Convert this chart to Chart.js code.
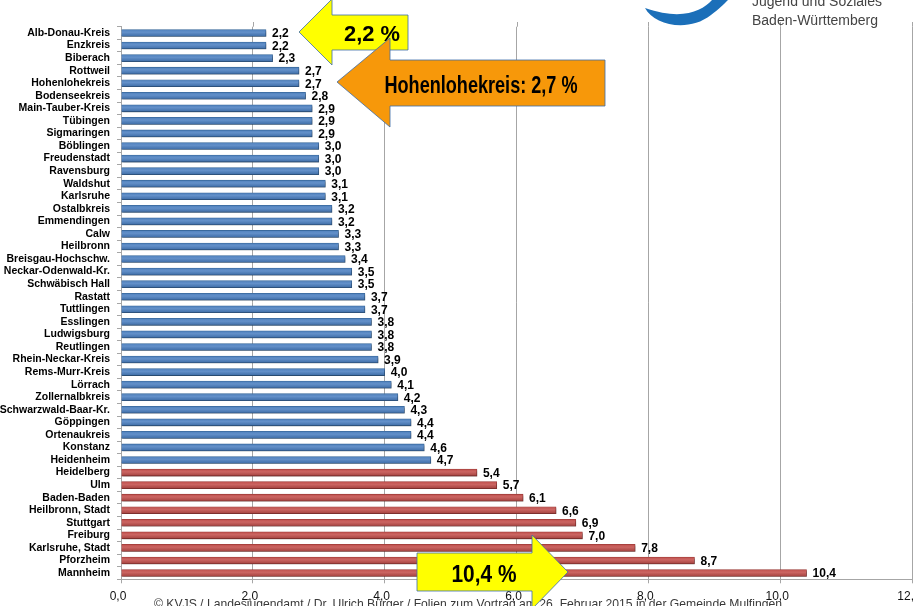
<!DOCTYPE html>
<html lang="de">
<head>
<meta charset="utf-8">
<title>Anteil nach Stadt- und Landkreisen</title>
<script src="https://cdn.jsdelivr.net/npm/chart.js@4.4.1/dist/chart.umd.min.js"></script>
<style>
  html, body { margin: 0; padding: 0; background: #ffffff; overflow: hidden; }
  #wrap { position: relative; width: 914px; height: 606px; overflow: hidden; }
  #chart { position: absolute; left: 0; top: 0; }
  #overlay { position: absolute; left: 0; top: 0; pointer-events: none; }
</style>
</head>
<body>
<div id="wrap">
  <canvas id="chart" width="935" height="606"></canvas>
  <svg id="overlay" width="914" height="606" viewBox="0 0 914 606" xmlns="http://www.w3.org/2000/svg">
    <!-- footer / source line -->
    <text x="154" y="608" font-family="Liberation Sans, Arial, sans-serif" font-size="13" fill="#3a3a3a"
          textLength="628" lengthAdjust="spacingAndGlyphs">© KVJS / Landesjugendamt / Dr. Ulrich Bürger / Folien zum Vortrag am 26. Februar 2015 in der Gemeinde Mulfingen</text>

    <!-- KVJS logo (top right) -->
    <path d="M 645 8 C 654 25, 688 33, 711 15 C 719 9, 724 4, 728 0 L 712 0 C 702 11, 682 21, 645 8 Z" fill="#1B6FB9"/>
    <text x="752" y="6" font-family="Liberation Sans, Arial, sans-serif" font-size="14" fill="#444444">Jugend und Soziales</text>
    <text x="752" y="25" font-family="Liberation Sans, Arial, sans-serif" font-size="14" fill="#444444">Baden-Württemberg</text>

    <!-- callout: lowest value -->
    <path d="M 299 32 L 332 -1 L 332 15 L 408 15 L 408 50 L 332 50 L 332 65 Z"
          fill="#FFFF00" stroke="#3E6DA8" stroke-width="0.8"/>
    <text x="372" y="40.5" text-anchor="middle" font-family="Liberation Sans, Arial, sans-serif" font-weight="bold"
          font-size="22" fill="#000" textLength="56" lengthAdjust="spacingAndGlyphs">2,2 %</text>

    <!-- callout: Hohenlohekreis -->
    <path d="M 337 82 L 390 38 L 390 60 L 605 60 L 605 106 L 390 106 L 390 127 Z"
          fill="#F7980A" stroke="#3E6DA8" stroke-width="0.8"/>
    <text x="481" y="93" text-anchor="middle" font-family="Liberation Sans, Arial, sans-serif" font-weight="bold"
          font-size="24" fill="#000" textLength="193" lengthAdjust="spacingAndGlyphs">Hohenlohekreis: 2,7 %</text>

    <!-- callout: highest value -->
    <path d="M 568 572 L 532 535 L 532 553 L 417 553 L 417 591 L 532 591 L 532 609 Z"
          fill="#FFFF00" stroke="#3E6DA8" stroke-width="0.8"/>
    <text x="484" y="582" text-anchor="middle" font-family="Liberation Sans, Arial, sans-serif" font-weight="bold"
          font-size="24" fill="#000" textLength="65" lengthAdjust="spacingAndGlyphs">10,4 %</text>
  </svg>
</div>

<script>
// Stadt- und Landkreise, sortiert nach Anteil (in %)
const kreise = [
  'Alb-Donau-Kreis', 'Enzkreis', 'Biberach', 'Rottweil', 'Hohenlohekreis',
  'Bodenseekreis', 'Main-Tauber-Kreis', 'Tübingen', 'Sigmaringen', 'Böblingen',
  'Freudenstadt', 'Ravensburg', 'Waldshut', 'Karlsruhe', 'Ostalbkreis',
  'Emmendingen', 'Calw', 'Heilbronn', 'Breisgau-Hochschw.', 'Neckar-Odenwald-Kr.',
  'Schwäbisch Hall', 'Rastatt', 'Tuttlingen', 'Esslingen', 'Ludwigsburg',
  'Reutlingen', 'Rhein-Neckar-Kreis', 'Rems-Murr-Kreis', 'Lörrach', 'Zollernalbkreis',
  'Schwarzwald-Baar-Kr.', 'Göppingen', 'Ortenaukreis', 'Konstanz', 'Heidenheim',
  'Heidelberg', 'Ulm', 'Baden-Baden', 'Heilbronn, Stadt', 'Stuttgart',
  'Freiburg', 'Karlsruhe, Stadt', 'Pforzheim', 'Mannheim'
];

const anteil = [
  2.2, 2.2, 2.3, 2.7, 2.7,
  2.8, 2.9, 2.9, 2.9, 3.0,
  3.0, 3.0, 3.1, 3.1, 3.2,
  3.2, 3.3, 3.3, 3.4, 3.5,
  3.5, 3.7, 3.7, 3.8, 3.8,
  3.8, 3.9, 4.0, 4.1, 4.2,
  4.3, 4.4, 4.4, 4.6, 4.7,
  5.4, 5.7, 6.1, 6.6, 6.9,
  7.0, 7.8, 8.7, 10.4
];

// Stadtkreise werden rot dargestellt, Landkreise blau
const stadtkreise = [
  'Heidelberg', 'Ulm', 'Baden-Baden', 'Heilbronn, Stadt', 'Stuttgart',
  'Freiburg', 'Karlsruhe, Stadt', 'Pforzheim', 'Mannheim'
];

const xTickLabels = ['0,0', '2,0', '4,0', '6,0', '8,0', '10,0', '12,0'];

const BLUE = ['#4F81BD', '#6390C9', '#3D6CA6'], BLUE_EDGE = '#3A6A9F';
const RED = ['#C0504D', '#CB6562', '#A3413E'], RED_EDGE = '#A23D3A';
const BAR_H = 7;

const isStadt = kreise.map(k => stadtkreise.includes(k));
const fmt = v => v.toFixed(1).replace('.', ',');

// slight cylindrical shading per bar, built from the bar's own position on the y scale
function barFill(context) {
  const pal = isStadt[context.dataIndex] ? RED : BLUE;
  const chart = context.chart;
  const yScale = chart.scales && chart.scales.y;
  if (!yScale || !chart.chartArea) return pal[0];
  const yc = yScale.getPixelForValue(context.dataIndex);
  if (!isFinite(yc)) return pal[0];
  const g = chart.ctx.createLinearGradient(0, yc - BAR_H / 2, 0, yc + BAR_H / 2);
  g.addColorStop(0, pal[0]);
  g.addColorStop(0.4, pal[1]);
  g.addColorStop(1, pal[2]);
  return g;
}

// gridlines continue a little above the plot (back wall of the chart)
const wallLines = {
  id: 'wallLines',
  beforeDatasetsDraw(chart) {
    const ctx = chart.ctx, x = chart.scales.x, top = chart.chartArea.top;
    ctx.save();
    ctx.strokeStyle = '#A6A6A6';
    ctx.lineWidth = 1;
    x.ticks.forEach(t => {
      if (t.value === 0) return;
      const px = Math.round(x.getPixelForValue(t.value)) + 0.5;
      ctx.beginPath();
      ctx.moveTo(px, 22);
      ctx.lineTo(px, top);
      ctx.stroke();
    });
    ctx.restore();
  }
};

// soft shadow under the bars plus value labels at the bar ends
const barDecor = {
  id: 'barDecor',
  beforeDatasetsDraw(chart) {
    const ctx = chart.ctx;
    ctx.save();
    ctx.shadowColor = 'rgba(0,0,0,0.35)';
    ctx.shadowBlur = 2;
    ctx.shadowOffsetX = 1;
    ctx.shadowOffsetY = 1.5;
  },
  afterDatasetsDraw(chart) {
    const ctx = chart.ctx;
    ctx.restore();
    ctx.save();
    ctx.font = 'bold 12px "Liberation Sans", Arial, sans-serif';
    ctx.fillStyle = '#000';
    ctx.textAlign = 'left';
    ctx.textBaseline = 'middle';
    const meta = chart.getDatasetMeta(0);
    meta.data.forEach((bar, i) => {
      ctx.fillText(fmt(anteil[i]), bar.x + 6, bar.y + 1);
    });
    ctx.restore();
  }
};

new Chart(document.getElementById('chart'), {
  type: 'bar',
  data: {
    labels: kreise,
    datasets: [{
      data: anteil,
      backgroundColor: barFill,
      borderColor: isStadt.map(s => s ? RED_EDGE : BLUE_EDGE),
      borderWidth: 0.8,
      barThickness: BAR_H,
      borderSkipped: 'start'
    }]
  },
  options: {
    indexAxis: 'y',
    responsive: false,
    animation: false,
    devicePixelRatio: 1,
    layout: { padding: { top: 26.7, right: 23, bottom: 0, left: 0 } },
    plugins: {
      legend: { display: false },
      tooltip: { enabled: false }
    },
    scales: {
      x: {
        min: 0,
        max: 12,
        ticks: {
          stepSize: 2,
          color: '#111',
          font: { family: '"Liberation Sans", Arial, sans-serif', size: 12 },
          padding: 6,
          labelOffset: -3,
          maxRotation: 0,
          callback: (v, i) => xTickLabels[i]
        },
        grid: { color: '#A6A6A6', lineWidth: 1, tickLength: 4, drawTicks: true },
        border: { color: '#A6A6A6', width: 1 },
        afterFit(scale) { scale.height = 26.7; }
      },
      y: {
        ticks: {
          color: '#000',
          font: { family: '"Liberation Sans", Arial, sans-serif', size: 10.5, weight: 'bold' },
          padding: 7,
          autoSkip: false
        },
        grid: { display: true, drawOnChartArea: false, drawTicks: true, tickLength: 4, color: '#A6A6A6', offset: true },
        border: { color: '#A6A6A6', width: 1 },
        afterFit(scale) { scale.width = 121; }
      }
    }
  },
  plugins: [wallLines, barDecor]
});
</script>
</body>
</html>
